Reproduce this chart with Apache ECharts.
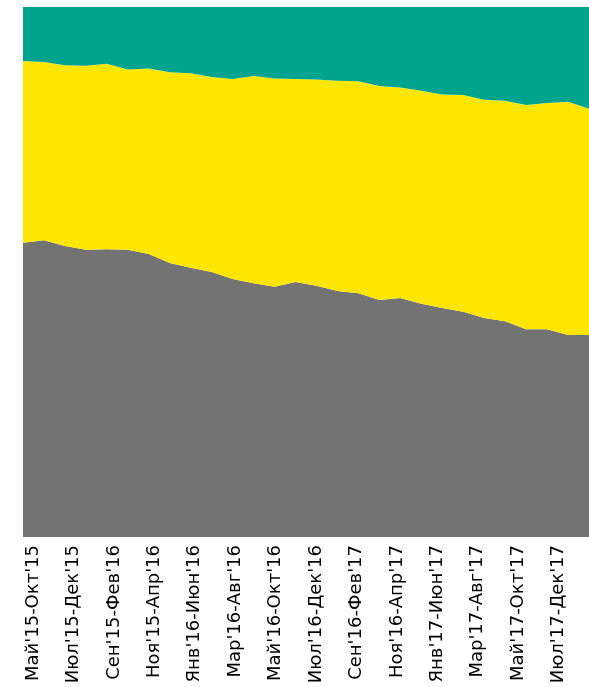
<!DOCTYPE html>
<html>
<head>
<meta charset="utf-8">
<script src="https://cdn.jsdelivr.net/npm/echarts@6/dist/echarts.min.js"></script>
<style>
html,body{margin:0;padding:0;background:#fff;}
#c{width:589px;height:687px;}
</style>
</head>
<body>
<div id="c"></div>
<script>
var categories = ["Май'15-Окт'15","Июн'15-Ноя'15","Июл'15-Дек'15","Авг'15-Янв'16","Сен'15-Фев'16","Окт'15-Мар'16","Ноя'15-Апр'16","Дек'15-Май'16","Янв'16-Июн'16","Фев'16-Июл'16","Мар'16-Авг'16","Апр'16-Сен'16","Май'16-Окт'16","Июн'16-Ноя'16","Июл'16-Дек'16","Авг'16-Янв'17","Сен'16-Фев'17","Окт'16-Мар'17","Ноя'16-Апр'17","Дек'16-Май'17","Янв'17-Июн'17","Фев'17-Июл'17","Мар'17-Авг'17","Апр'17-Сен'17","Май'17-Окт'17","Июн'17-Ноя'17","Июл'17-Дек'17","Авг'17-Янв'18"];
// share of the grey (bottom) segment, %
var greyShare = [55.5,56.0,54.9,54.2,54.3,54.2,53.4,51.7,50.8,50.0,48.7,47.9,47.2,48.1,47.4,46.4,46.0,44.7,45.1,44.0,43.2,42.5,41.3,40.7,39.2,39.2,38.1,38.1];
// share of the yellow (middle) segment, %
var yellowShare = [34.3,33.6,34.1,34.7,35.0,34.0,35.0,36.0,36.7,36.8,37.7,39.1,39.3,38.3,38.9,39.7,40.0,40.4,39.7,40.2,40.3,40.9,41.2,41.6,42.3,42.7,44.0,42.7];
// share of the teal (top) segment, %
var tealShare = [10.2,10.4,11.0,11.1,10.7,11.8,11.6,12.3,12.5,13.2,13.6,13.0,13.5,13.6,13.7,13.9,14.0,14.9,15.2,15.8,16.5,16.6,17.5,17.7,18.5,18.1,17.9,19.2];

var chart = echarts.init(document.getElementById('c'), null, {renderer:'canvas'});
function areaSeries(name, data, color){
  return {
    name: name, type: 'line', stack: 'total', xAxisIndex: 0,
    data: data, symbol: 'none', smooth: false,
    lineStyle: {width: 0, color: color},
    itemStyle: {color: color},
    areaStyle: {color: color, opacity: 1}
  };
}
chart.setOption({
  animation: false,
  grid: {left: 23, right: 0, top: 7, bottom: 150, containLabel: false},
  xAxis: [
    {type: 'category', data: categories, boundaryGap: false, show: false},
    {type: 'category', data: categories, boundaryGap: true, position: 'bottom',
     axisLine: {show: false}, axisTick: {show: false}, splitLine: {show: false},
     axisLabel: {rotate: 90, interval: 1, margin: 8, color: '#000',
                 fontFamily: 'DejaVu Sans', fontSize: 18}}
  ],
  yAxis: {type: 'value', min: 0, max: 100, show: false},
  series: [
    areaSeries('grey', greyShare, '#737373'),
    areaSeries('yellow', yellowShare, '#FFE600'),
    areaSeries('teal', tealShare, '#00A38D')
  ]
});
</script>
</body>
</html>
